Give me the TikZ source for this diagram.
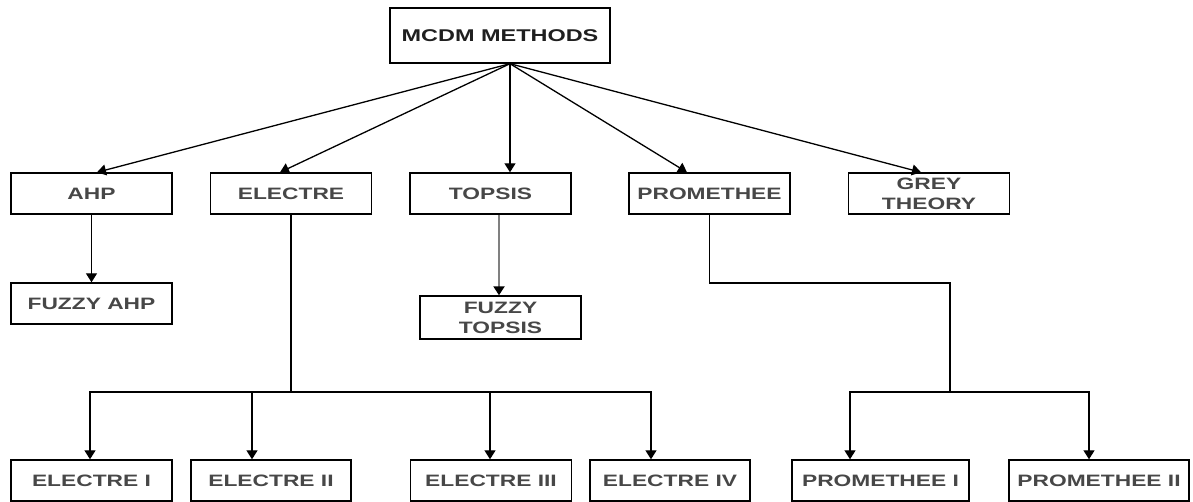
\documentclass[tikz,border=0pt]{standalone}
\usepackage{fontspec}
\setmainfont{Liberation Sans}[FakeStretch=1.38]
\usetikzlibrary{arrows.meta}
\tikzset{
  method/.style={draw=black, line width=1.4pt, minimum width=161pt, minimum height=41pt,
    inner sep=0pt, align=center, text=black!72, font=\fontsize{16.5}{20}\selectfont\bfseries},
  link/.style={line width=1.3pt, -{Triangle[width=11pt,length=9pt,color=black]}},
  wire/.style={line width=1.3pt}
}
\begin{document}
\begin{tikzpicture}[x=1pt, y=-1pt]
  \useasboundingbox (0,0) rectangle (1193,502);
  \node[method, minimum width=220pt, minimum height=55pt, text=black!88, font=\fontsize{17}{20}\selectfont\bfseries] (mcdm) at (500,35.5) {MCDM METHODS};
  \node[method] (ahp) at (91.5,193.5) {AHP};
  \node[method] (electre) at (291,193.5) {ELECTRE};
  \node[method] (topsis) at (490.5,193.5) {TOPSIS};
  \node[method] (prom) at (709.5,193.5) {PROMETHEE};
  \node[method] (grey) at (929,193.5) {GREY\\THEORY};
  \node[method] (fahp) at (91.5,303.5) {FUZZY AHP};
  \node[method, minimum height=43pt] (ftop) at (500.5,317.5) {FUZZY\\TOPSIS};
  \node[method] (e1) at (91.5,480.5) {ELECTRE I};
  \node[method, minimum width=160pt] (e2) at (271,480.5) {ELECTRE II};
  \node[method] (e3) at (491,480.5) {ELECTRE III};
  \node[method, minimum width=160pt] (e4) at (670,480.5) {ELECTRE IV};
  \node[method, minimum width=177pt] (p1) at (880.5,480.5) {PROMETHEE I};
  \node[method, minimum width=180pt] (p2) at (1099,480.5) {PROMETHEE II};
  \coordinate (root) at ([xshift=10pt]mcdm.south);
  \coordinate (ebus) at (291,392);
  \coordinate (pbend) at (950,283);
  \coordinate (pbus) at (950,392);
  \draw[link] (root) -- ([xshift=5.5pt]ahp.north);
  \draw[link] (root) -- ([xshift=-11pt]electre.north);
  \draw[link] (root) -- ([xshift=19.5pt]topsis.north);
  \draw[link] (root) -- ([xshift=-22.5pt]prom.north);
  \draw[link] (root) -- ([xshift=-8pt]grey.north);
  \draw[link] (ahp.south) -- (fahp.north);
  \draw[link, gray, line width=2pt] ([xshift=8.5pt]topsis.south) -- ([xshift=-1.5pt]ftop.north);
  \draw[wire] (electre.south) -- (ebus);
  \draw[link] (ebus) -| ([xshift=-1.5pt]e1.north);
  \draw[link] (ebus) -| ([xshift=-19pt]e2.north);
  \draw[link] (ebus) -| ([xshift=-1pt]e3.north);
  \draw[link] (ebus) -| ([xshift=-19pt]e4.north);
  \draw[wire] (prom.south) |- (pbend) -- (pbus);
  \draw[link] (pbus) -| ([xshift=-30.5pt]p1.north);
  \draw[link] (pbus) -| ([xshift=-10pt]p2.north);
\end{tikzpicture}
\end{document}
